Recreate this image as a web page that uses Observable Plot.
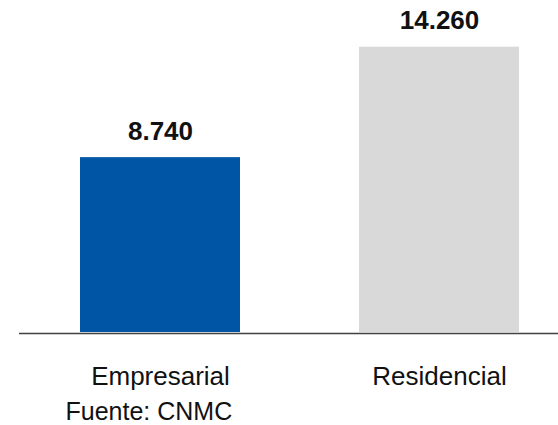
<!DOCTYPE html>
<html><head><meta charset="utf-8">
<script src="https://cdn.jsdelivr.net/npm/d3@7"></script>
<script src="https://cdn.jsdelivr.net/npm/@observablehq/plot@0.6"></script>
<style>body{margin:0;background:#fff}</style>
</head><body><div id="chart"></div>
<script>
const categories = ["Empresarial", "Residencial"];
const values = [8740, 14260];
const valueLabels = ["8.740", "14.260"];
const colors = ["#0055A4", "#D9D9D9"];
const source = "Fuente: CNMC";

const data = categories.map((c, i) => ({category: c, value: values[i], label: valueLabels[i], color: colors[i]}));
const font = "'Liberation Sans', Arial, Helvetica, sans-serif";

const chart = Plot.plot({
  width: 558, height: 425,
  marginLeft: 19, marginRight: 0, marginTop: 46.7, marginBottom: 93,
  style: {fontFamily: font, background: "#fff", overflow: "visible"},
  x: {domain: categories, paddingInner: 0.4275, paddingOuter: 0.178, align: 0.613, axis: null},
  y: {domain: [0, 14260], axis: null},
  color: {type: "identity"},
  marks: [
    Plot.barY(data, {x: "category", y: "value", fill: "color"}),
    Plot.ruleY([0], {stroke: "#404040", strokeWidth: 1.4, dy: 1}),
    Plot.text(data, {x: "category", y: "value", text: "label", lineAnchor: "bottom", dy: -18, fontSize: 26, fontWeight: "bold", fill: "#111"}),
    Plot.text(data, {x: "category", y: 0, text: "category", lineAnchor: "bottom", dy: 52, fontSize: 26, fill: "#111"}),
    Plot.text([source], {text: d => d, frameAnchor: "bottom-left", textAnchor: "start", lineAnchor: "bottom", dx: 46, dy: 87.8, fontSize: 25, fill: "#111"})
  ]
});
document.getElementById("chart").appendChild(chart);
</script>
</body></html>
